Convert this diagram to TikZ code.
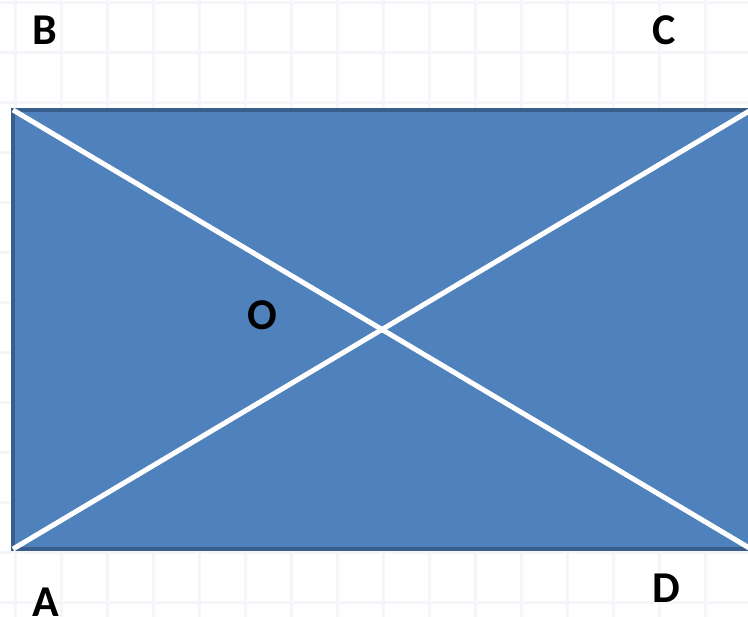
\documentclass[tikz,border=0pt]{standalone}
\usepackage{fontspec}
\setmainfont{Carlito}
\usepackage{xcolor}
\definecolor{rectfill}{HTML}{4F81BD}
\definecolor{rectedge}{HTML}{3A5E8C}
\definecolor{gridcol}{HTML}{F4F6FA}

\begin{document}
\begin{tikzpicture}[x=1pt, y=-1pt,
    gridline/.style={gridcol, line width=3pt},
    diag/.style={white, line width=5pt},
    lbl/.style={font=\fontsize{44}{50}\selectfont\bfseries, text=black, inner sep=0pt}]
    \useasboundingbox (0,0) rectangle (748,617);
    \clip (0,0) rectangle (748,617);
    % Fondo cuadriculado
    \foreach \x in {15,61,...,751} {
        \draw[gridline] (\x,0) -- (\x,617);
    }
    \foreach \y in {3,53,...,620} {
        \draw[gridline] (0,\y) -- (748,\y);
    }
    % Vertices
    \coordinate (A) at (13,549);
    \coordinate (B) at (13,110);
    \coordinate (C) at (751,110);
    \coordinate (D) at (751,549);
    % Rectangulo
    \filldraw[fill=rectfill, draw=rectedge, line width=4pt] (A) rectangle (C);
    % Diagonales
    \draw[diag] (A) -- (C);
    \draw[diag] (B) -- (D);
    % Letras
    \node[lbl] (lA) at (46,602) {A};
    \node[lbl] (lB) at (45,30) {B};
    \node[lbl] (lC) at (664,30) {C};
    \node[lbl] (lD) at (666,588) {D};
    \node[lbl] (lO) at (262,315) {O};
\end{tikzpicture}
\end{document}
